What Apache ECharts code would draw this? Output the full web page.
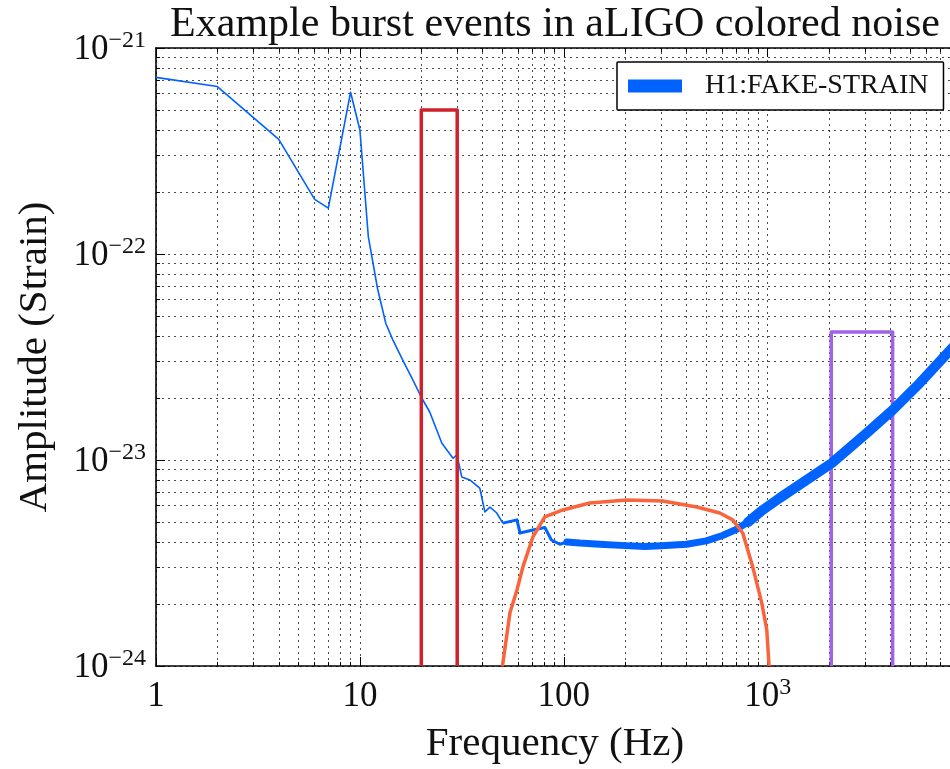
<!DOCTYPE html>
<html><head><meta charset="utf-8">
<script src="https://cdn.jsdelivr.net/npm/echarts@6/dist/echarts.min.js"></script>
<style>html,body{margin:0;padding:0;background:#fff;overflow:hidden}#c{width:950px;height:769px}</style>
</head><body><div id="c"></div>
<script>
const TITLE = 'Example burst events in aLIGO colored noise';
const X_NAME = 'Frequency (Hz)';
const Y_NAME = 'Amplitude (Strain)';
const LEGEND_NAME = 'H1:FAKE-STRAIN';
const X_MIN = 1, X_MAX = 8192;
const Y_MIN = 1e-24, Y_MAX = 1e-21;
const Y_UNIT = 1e-24; // y values are plotted in units of 1e-24 strain

// minor grid positions
const xMinorGrid = [2,3,4,5,6,7,8,9,20,30,40,50,60,70,80,90,200,300,400,500,600,700,800,900,2000,3000,4000,5000,6000,7000,8000];
const yMinorGrid = [2e-24,3e-24,4e-24,5e-24,6e-24,7e-24,8e-24,9e-24,2e-23,3e-23,4e-23,5e-23,6e-23,7e-23,8e-23,9e-23,2e-22,3e-22,4e-22,5e-22,6e-22,7e-22,8e-22,9e-22];

// H1:FAKE-STRAIN noise amplitude, low-frequency part (thin)
const noiseLowFreq = [1, 2, 4, 6, 7, 9, 10, 11, 12.2, 13.4, 14.5, 16.2, 18.2, 20.1, 22.0, 25.2, 28.6, 29.9, 31.6, 34.6, 38.7, 41.0, 43.4, 46.9, 50.2];
const noiseLowAmp  = [7.2e-22, 6.5e-22, 3.6e-22, 1.84e-22, 1.67e-22, 6.1e-22, 4.0e-22, 1.21e-22, 6.8e-23, 4.6e-23, 3.83e-23, 3.06e-23, 2.44e-23, 2.0e-23, 1.71e-23, 1.21e-23, 1.02e-23, 1.06e-23, 8.26e-24, 8.0e-24, 7.31e-24, 5.6e-24, 5.91e-24, 5.53e-24, 4.94e-24];
// mid part
const noiseMidFreq = [50.2, 58.9, 61.0, 70.5, 80.7, 86.9, 95.6, 103.5];
const noiseMidAmp  = [4.94e-24, 5.12e-24, 4.42e-24, 4.57e-24, 4.7e-24, 4.09e-24, 3.9e-24, 4.0e-24];
// dense noisy band
const noiseBandFreq = [103.5, 120, 150, 200, 250, 300, 400, 500, 600, 700, 800];
const noiseBandAmp  = [4.0e-24, 3.95e-24, 3.9e-24, 3.84e-24, 3.8e-24, 3.83e-24, 3.9e-24, 4.05e-24, 4.3e-24, 4.6e-24, 5.0e-24];
const noiseHighFreq = [800, 945, 1145, 2060, 3055, 4100, 5560, 8192];
const noiseHighAmp  = [5.0e-24, 5.72e-24, 6.54e-24, 9.66e-24, 1.35e-23, 1.75e-23, 2.36e-23, 3.57e-23];

// burst events
const redFreq = [20, 20, 30, 30];
const redAmp  = [1e-24, 5e-22, 5e-22, 1e-24];
const orangeFreq = [50, 54.4, 58.9, 63.0, 70.5, 80.7, 98.9, 134, 204, 305, 449, 582, 673, 754, 844, 935, 989, 1015];
const orangeAmp  = [1e-24, 1.81e-24, 2.34e-24, 3.03e-24, 4.23e-24, 5.29e-24, 5.72e-24, 6.18e-24, 6.4e-24, 6.32e-24, 5.91e-24, 5.53e-24, 5.12e-24, 4.42e-24, 3.03e-24, 2.02e-24, 1.5e-24, 1e-24];
const purpleFreq = [2048, 2048, 4096, 4096];
const purpleAmp  = [1e-24, 4.18e-23, 4.18e-23, 1e-24];

const FONT = '"Liberation Serif", "Times New Roman", serif';
const BLUE = '#0062ff';
const S = v => v / Y_UNIT;
const pairs = (fs, vs) => fs.map((f, i) => [f, S(vs[i])]);

const rich = {
  b: {fontFamily: FONT, fontSize: 35, color: '#111', lineHeight: 38, verticalAlign: 'bottom'},
  s: {fontFamily: FONT, fontSize: 24, color: '#111', lineHeight: 18, verticalAlign: 'top'}
};
function isPow10(v) { const l = Math.log10(v); return Math.abs(l - Math.round(l)) < 1e-6; }
function xFmt(v) {
  if (!isPow10(v)) return '';
  const e = Math.round(Math.log10(v));
  if (e === 0) return '{b|1}';
  if (e === 1) return '{b|10}';
  if (e === 2) return '{b|100}';
  return '{b|10}{s|' + e + '}';
}
function yFmt(v) {
  if (!isPow10(v)) return '';
  const e = Math.round(Math.log10(v * Y_UNIT));
  return '{b|10}{s|\u2212' + Math.abs(e) + '}';
}
const gridLineStyle = {color: '#000', width: 1, type: [2, 4], opacity: 0.7};
const axisLineStyle = {color: '#000', width: 1.6};

function logAxis(extra) {
  return Object.assign({
    type: 'log', logBase: 10,
    axisLine: {show: true, onZero: false, lineStyle: axisLineStyle},
    axisTick: {show: true, inside: true, length: 9, lineStyle: {color: '#000', width: 1}},
    minorTick: {show: true, splitNumber: 9, length: 4, lineStyle: {color: '#000', width: 1}},
    splitLine: {show: false},
    minorSplitLine: {show: false}
  }, extra);
}

const chart = echarts.init(document.getElementById('c'));
const option = {
  animation: false,
  backgroundColor: '#fff',
  graphic: [{
    type: 'text', x: 555, y: 25,
    style: {text: TITLE, font: '42px "Liberation Serif"', fill: '#111', textAlign: 'center', textVerticalAlign: 'middle'}
  }],
  legend: {
    left: 617, top: 62,
    data: [{name: LEGEND_NAME, icon: 'rect'}],
    itemWidth: 54, itemHeight: 13,
    padding: [10, 15, 10, 11],
    borderColor: '#000', borderWidth: 1.5, borderRadius: 1,
    backgroundColor: '#fff',
    selectedMode: false,
    textStyle: {fontFamily: FONT, fontSize: 28, color: '#111', padding: [0, 0, 0, 18]}
  },
  grid: {left: 156, width: 798, top: 48, height: 618, containLabel: false, outerBoundsMode: 'none'},
  xAxis: [
    logAxis({
      position: 'bottom', min: X_MIN, max: X_MAX,
      name: X_NAME, nameLocation: 'middle', nameGap: 58,
      nameTextStyle: {fontFamily: FONT, fontSize: 41, color: '#111'},
      axisLabel: {formatter: xFmt, margin: 10, rich: rich},
      splitLine: {show: true, lineStyle: gridLineStyle}
    }),
    logAxis({position: 'top', min: X_MIN, max: X_MAX, axisLabel: {show: false}})
  ],
  yAxis: [
    logAxis({
      position: 'left', min: S(Y_MIN), max: S(Y_MAX),
      name: Y_NAME, nameLocation: 'middle', nameGap: 100, nameRotate: 90,
      nameTextStyle: {fontFamily: FONT, fontSize: 41, color: '#111'},
      axisLabel: {formatter: yFmt, margin: 10, rich: rich},
      splitLine: {show: true, lineStyle: gridLineStyle}
    })
  ],
  series: [
    {
      type: 'line', name: '_grid', data: [], z: 1, silent: true,
      markLine: {
        silent: true, symbol: 'none', animation: false, z: 1, zlevel: 0,
        label: {show: false},
        lineStyle: gridLineStyle,
        emphasis: {disabled: true},
        data: xMinorGrid.map(v => ({xAxis: v})).concat(yMinorGrid.map(v => ({yAxis: S(v)})))
      }
    },
    {type: 'line', name: 'purple', data: pairs(purpleFreq, purpleAmp), showSymbol: false, z: 3,
     lineStyle: {color: '#a063e6', width: 3.5, join: 'round'}, itemStyle: {color: '#a063e6'}},
    {type: 'line', name: LEGEND_NAME, data: pairs(noiseLowFreq, noiseLowAmp), showSymbol: false, z: 4,
     lineStyle: {color: BLUE, width: 1.6, join: 'round'}, itemStyle: {color: BLUE}},
    {type: 'line', name: LEGEND_NAME, data: pairs(noiseMidFreq, noiseMidAmp), showSymbol: false, z: 4,
     lineStyle: {color: BLUE, width: 3, join: 'round'}, itemStyle: {color: BLUE}},
    {type: 'line', name: LEGEND_NAME, data: pairs(noiseBandFreq, noiseBandAmp), showSymbol: false, z: 4,
     lineStyle: {color: BLUE, width: 7, join: 'round', cap: 'round'}, itemStyle: {color: BLUE}},
    {type: 'line', name: LEGEND_NAME, data: pairs(noiseHighFreq, noiseHighAmp), showSymbol: false, z: 4,
     lineStyle: {color: BLUE, width: 10, join: 'round', cap: 'round'}, itemStyle: {color: BLUE}},
    {type: 'line', name: 'red', data: pairs(redFreq, redAmp), showSymbol: false, z: 5,
     lineStyle: {color: '#d0212a', width: 3.5, join: 'round'}, itemStyle: {color: '#d0212a'}},
    {type: 'line', name: 'orange', data: pairs(orangeFreq, orangeAmp), showSymbol: false, z: 5,
     lineStyle: {color: '#fa643c', width: 3.5, join: 'round'}, itemStyle: {color: '#fa643c'}}
  ]
};
chart.setOption(option);
</script>
</body></html>
